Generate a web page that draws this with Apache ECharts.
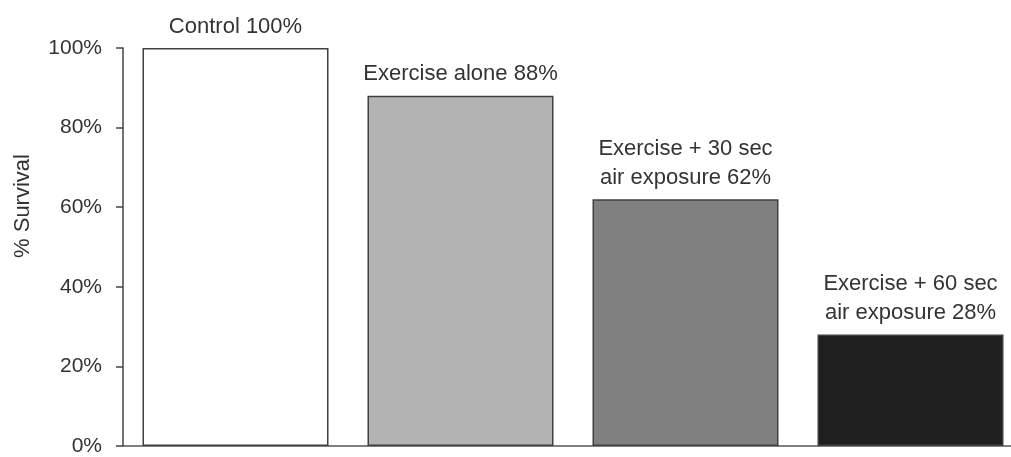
<!DOCTYPE html>
<html>
<head>
<meta charset="utf-8">
<script src="https://cdn.jsdelivr.net/npm/echarts@6/dist/echarts.min.js"></script>
<style>html,body{margin:0;padding:0;background:#fff;}#c{width:1011px;height:457px;}</style>
</head>
<body>
<div id="c"></div>
<script>
var categories = ['Control', 'Exercise alone', 'Exercise + 30 sec air exposure', 'Exercise + 60 sec air exposure'];
var survival = [100, 88, 62, 28];
var barLabels = ['Control 100%', 'Exercise alone 88%', 'Exercise + 30 sec\nair exposure 62%', 'Exercise + 60 sec\nair exposure 28%'];
var barColors = ['#ffffff', '#b3b3b3', '#808080', '#1f1f1f'];
var yTicks = [0, 20, 40, 60, 80, 100];

var chart = echarts.init(document.getElementById('c'), null, {renderer: 'canvas'});
var font = '"Liberation Sans", Arial, sans-serif';
// category slots are 225px wide; the 4th slot runs past the right edge of the picture
var gridLeft = 123, gridRight = 1011, slot = 225;
chart.setOption({
  animation: false,
  backgroundColor: '#ffffff',
  grid: {left: gridLeft, right: 0, top: 48, bottom: 11, containLabel: false},
  xAxis: {
    type: 'value',
    min: -0.5,
    max: -0.5 + (gridRight - gridLeft) / slot,
    axisLine: {show: true, onZero: false, lineStyle: {color: '#555555', width: 1.5}},
    axisTick: {show: false},
    axisLabel: {show: false},
    splitLine: {show: false}
  },
  yAxis: {
    type: 'value',
    min: yTicks[0],
    max: yTicks[yTicks.length - 1],
    interval: yTicks[1] - yTicks[0],
    axisLine: {show: true, onZero: false, lineStyle: {color: '#444444', width: 1.5}},
    axisTick: {show: true, inside: false, length: 7, lineStyle: {color: '#444444', width: 1.5}},
    axisLabel: {formatter: '{value}%', margin: 21, color: '#333333', fontSize: 21, fontFamily: font},
    splitLine: {show: false}
  },
  graphic: [{
    type: 'text',
    x: 23, y: 206,
    rotation: Math.PI / 2,
    style: {text: '% Survival', fill: '#333333', font: '22px ' + font, textAlign: 'center', textVerticalAlign: 'middle'}
  }],
  series: [{
    type: 'bar',
    barWidth: 186,
    data: survival.map(function (v, i) {
      return {name: categories[i], value: [i, v], itemStyle: {color: barColors[i]}};
    }),
    itemStyle: {borderColor: '#404040', borderWidth: 1.5},
    label: {
      show: true,
      position: 'top',
      distance: 7,
      color: '#333333',
      fontSize: 22,
      lineHeight: 29,
      fontFamily: font,
      formatter: function (p) { return barLabels[p.dataIndex]; }
    }
  }]
});
</script>
</body>
</html>
